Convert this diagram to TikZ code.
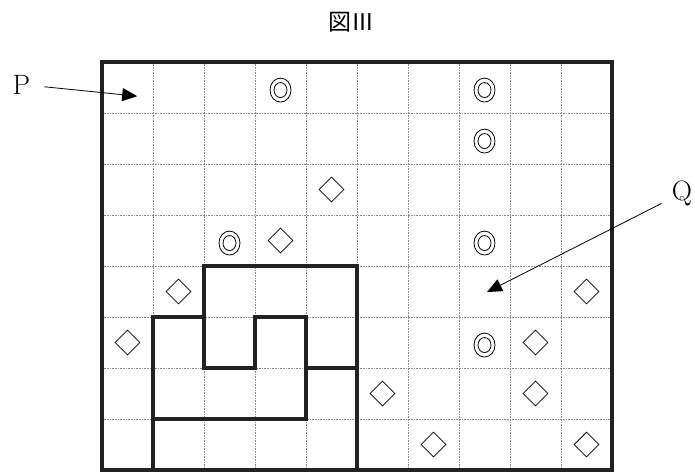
\documentclass[tikz,border=0pt]{standalone}
\usepackage{fontspec}
\usepackage{tikz}
\usetikzlibrary{shapes.geometric, arrows.meta}
\newfontfamily\jpfont{Noto Sans CJK JP}
\definecolor{gridgray}{HTML}{8A8A8A}
\definecolor{darkline}{HTML}{222222}
\tikzset{
  gridline/.style={gridgray, line width=0.6pt, densely dotted},
  border/.style={draw=darkline, line width=3.2pt},
  region/.style={darkline, line width=3.2pt, line join=miter},
  gem/.style={
    diamond, draw=black, line width=0.8pt,
    minimum width=25pt, minimum height=25pt, inner sep=0pt,
  },
  ring/.style={black, line width=0.8pt},
  pointer/.style={-{Triangle[length=15pt, width=13pt]}, line width=0.8pt, black},
  marker/.style={font=\fontsize{28}{30}\selectfont, inner sep=10pt},
  caption/.style={font=\jpfont\fontsize{23}{25}\selectfont},
}

\begin{document}
\begin{tikzpicture}[x=51pt, y=-51pt]

  \useasboundingbox (-102pt,62pt) rectangle (593pt,-410pt);

  \foreach \c in {1,...,9}
    \draw[gridline] (\c,0) -- (\c,8);
  \foreach \r in {1,...,7}
    \draw[gridline] (0,\r) -- (10,\r);
  \draw[border] (0,0) rectangle (10,8);

  \draw[region] (1,8) -- (1,5) -- (2,5) -- (2,4) -- (5,4) -- (5,8);
  \draw[region] (2,5) -- (2,6) -- (3,6) -- (3,5) -- (4,5) -- (4,7) -- (1,7);
  \draw[region] (4,6) -- (5,6);

  \foreach \c/\r in {3/0, 7/0, 7/1, 2/3, 7/3, 7/5} {
    \draw[ring] (\c+0.5,\r+0.55) ellipse [x radius=10.5pt, y radius=12pt];
    \draw[ring] (\c+0.5,\r+0.55) ellipse [x radius=6.5pt, y radius=7.5pt];
  }
  \foreach \c/\r in {4/2, 3/3, 1/4, 9/4, 0/5, 8/5, 5/6, 8/6, 6/7, 9/7}
    \node[gem] (gem-\c-\r) at (\c+0.5,\r+0.5) {};

  \node[caption] (title) at (4.9,-0.78) {図Ⅲ};
  \node[marker] (P) at (-1.58,0.44) {P};
  \node[marker] (Q) at (11.37,2.57) {Q};
  \coordinate (p-tip) at (0.69,0.67);
  \coordinate (q-tip) at (7.55,4.51);

  \draw[pointer, shorten <=4pt] (P) -- (p-tip);
  \draw[pointer] (Q) -- (q-tip);

\end{tikzpicture}
\end{document}
